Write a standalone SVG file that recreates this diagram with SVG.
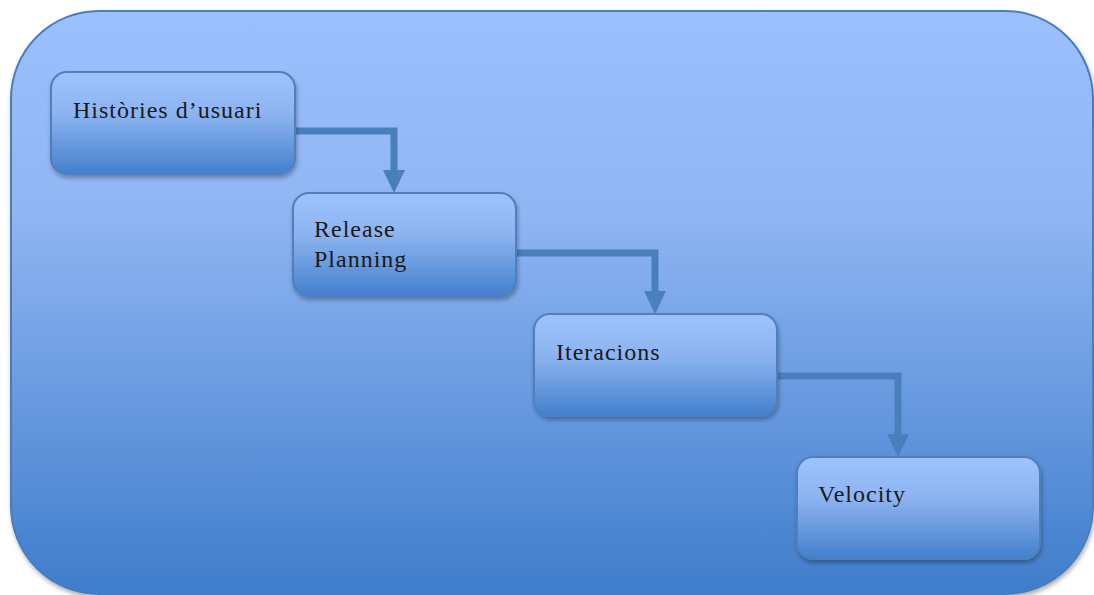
<svg xmlns="http://www.w3.org/2000/svg" width="1094" height="595" viewBox="0 0 1094 595">
<defs>
<linearGradient id="bg" x1="0" y1="0" x2="0" y2="1">
<stop offset="0" stop-color="#9bc0fd"/>
<stop offset="0.35" stop-color="#8fb5f3"/>
<stop offset="1" stop-color="#3f7dcb"/>
</linearGradient>
<linearGradient id="ng" x1="0" y1="0" x2="0" y2="1">
<stop offset="0" stop-color="#9ec3ff"/>
<stop offset="0.4" stop-color="#8db4f0"/>
<stop offset="1" stop-color="#4380cd"/>
</linearGradient>
<filter id="sh" x="-5%" y="-5%" width="110%" height="115%">
<feDropShadow dx="1" dy="3" stdDeviation="2" flood-color="#000" flood-opacity="0.3"/>
</filter>
<style>
.node rect{fill:url(#ng);stroke:#4f7fbc;stroke-width:2;filter:url(#sh)}
.node text{font-family:"Liberation Serif",serif;font-size:24px;letter-spacing:1px;fill:#1a1a1a}
.conn path{fill:none;stroke:#4a7fbd;stroke-width:7;stroke-linejoin:miter}
.conn polygon{fill:#4a7fbd}
</style>
</defs>
<rect x="11" y="11" width="1082" height="583" rx="88" ry="88" fill="url(#bg)" stroke="#4a7ebb" stroke-width="2" filter="url(#sh)"/>
<g id="connectors" class="conn">
<path d="M295,131 H394 V172"/>
<polygon points="383,170 405,170 394,193"/>
<path d="M516,253 H655 V293"/>
<polygon points="644,291 666,291 655,314"/>
<path d="M777,376 H898 V436"/>
<polygon points="887,434 909,434 898,457"/>
</g>
<g id="node1" class="node">
<rect x="51" y="72" width="244" height="102" rx="16"/>
<text x="73" y="118">Històries d’usuari</text>
</g>
<g id="node2" class="node">
<rect x="293" y="193" width="223" height="103" rx="16"/>
<text x="314" y="237">Release</text>
<text x="314" y="267">Planning</text>
</g>
<g id="node3" class="node">
<rect x="534" y="314" width="243" height="102" rx="16"/>
<text x="556" y="360">Iteracions</text>
</g>
<g id="node4" class="node">
<rect x="797" y="457" width="243" height="102" rx="16"/>
<text x="818" y="502">Velocity</text>
</g>
</svg>
